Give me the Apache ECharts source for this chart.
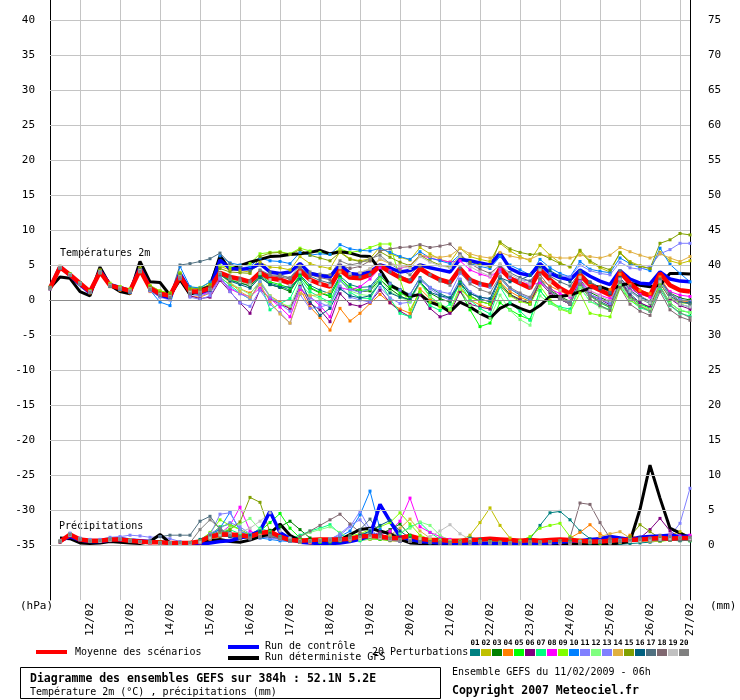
<!DOCTYPE html>
<html>
<head>
<meta charset="utf-8">
<script src="https://cdn.jsdelivr.net/npm/echarts@6/dist/echarts.min.js"></script>
<style>
html,body{margin:0;padding:0;background:#fff}
#chart{width:740px;height:700px}
</style>
</head>
<body>
<div id="chart"></div>
<script>
// echeances GEFS, pas de 6h depuis le 11/02/2009 06h
var hours = [0,6,12,18,24,30,36,42,48,54,60,66,72,78,84,90,96,102,108,114,120,126,132,138,144,150,156,162,168,174,180,186,192,198,204,210,216,222,228,234,240,246,252,258,264,270,276,282,288,294,300,306,312,318,324,330,336,342,348,354,360,366,372,378,384];
var dayLabels = ['12/02','13/02','14/02','15/02','16/02','17/02','18/02','19/02','20/02','21/02','22/02','23/02','24/02','25/02','26/02','27/02'];
var tempTicks = [40,35,30,25,20,15,10,5,0,-5,-10,-15,-20,-25,-30,-35];
var precTicks = [75,70,65,60,55,50,45,40,35,30,25,20,15,10,5,0];
var memberColors = ['#008080','#c0c000','#008000','#ff8000','#00ff00','#800080','#00ff80','#ff00ff','#80ff00','#0080ff','#8080ff','#80ff80','#8080ff','#e0b040','#80a000','#006080','#507080','#806870','#c0c0c0','#808080'];

// temperature 2m (°C)
var tMean = [1.7,4.7,3.6,2.4,1.2,4.0,2.1,1.7,1.3,4.3,1.7,0.9,0.6,3.4,1.2,1.2,1.7,3.9,3.3,3.0,2.6,3.9,3.1,2.9,2.4,4.2,2.9,2.3,1.9,4.3,3.2,3.1,3.6,4.9,4.0,3.2,2.6,4.5,3.6,2.9,2.5,4.5,2.9,2.3,2.0,4.5,3.1,2.4,1.7,4.3,2.9,1.7,0.9,3.6,2.1,1.4,0.7,4.0,2.4,1.2,0.6,3.8,2.1,1.4,1.2];
var tCtrl = [1.7,4.8,3.5,2.2,1.0,4.2,2.2,1.8,1.3,4.6,1.8,0.7,0.3,3.8,1.3,1.0,1.6,5.7,4.5,4.4,4.5,5.2,4.0,3.8,4.0,5.2,3.8,3.5,3.3,5.0,3.8,3.6,4.0,5.0,4.6,4.0,4.2,5.0,4.6,4.3,4.0,5.8,5.6,5.3,5.0,6.7,4.5,3.8,3.5,5.2,3.8,3.2,2.9,4.3,3.4,2.7,2.2,4.2,3.0,2.4,2.3,4.0,3.0,2.7,2.6];
var tDet = [1.7,3.3,3.1,1.2,0.6,4.7,2.1,1.2,0.9,5.5,2.6,2.5,0.7,2.9,0.8,1.4,1.9,6.3,4.3,4.9,5.4,5.8,6.2,6.3,6.5,6.6,6.8,7.1,6.6,6.9,6.7,6.3,6.2,4.3,2.1,1.4,0.5,0.8,-0.3,-0.8,-1.7,-0.3,-1.0,-1.9,-2.6,-1.2,-0.5,-1.2,-1.7,-0.8,0.5,0.5,0.7,1.2,1.7,1.9,1.4,2.1,2.4,2.1,1.9,2.1,3.8,3.8,3.7];
var t01 = [1.6,4.6,3.5,2.3,1.1,4.1,2.0,1.5,1.1,4.0,1.4,0.5,0.2,3.0,0.8,0.9,1.2,3.6,2.8,2.4,2.0,3.5,2.4,2.0,1.4,3.6,2.1,1.4,0.9,3.4,2.2,1.8,1.9,3.6,2.4,1.5,0.8,3.2,1.8,0.9,0.3,2.9,1.0,0.2,-0.3,3.1,1.6,0.7,0.0,3.0,1.3,0.1,-0.6,2.5,0.7,-0.2,-0.9,2.9,0.9,-0.4,-1.1,2.3,0.4,-0.6,-1.0];
var t02 = [1.8,4.8,3.7,2.5,1.3,4.3,2.4,1.9,1.6,4.6,2.1,1.3,1.0,3.9,1.7,1.6,2.2,4.8,4.3,4.2,4.0,5.4,4.7,4.6,4.3,6.2,5.2,4.8,4.5,6.9,5.9,5.6,5.9,7.6,6.6,6.1,5.7,7.5,6.6,5.8,5.4,7.4,6.2,5.8,5.5,8.1,7.0,6.2,5.6,7.8,6.4,5.3,4.7,6.9,5.4,4.6,4.0,6.8,5.5,4.9,4.5,6.8,5.6,5.2,5.6];
var t03 = [1.7,4.7,3.6,2.4,1.2,3.9,2.0,1.6,1.2,4.1,1.5,0.7,0.4,3.2,1.0,0.9,1.4,3.8,2.9,2.5,2.0,3.3,2.2,1.8,1.2,3.4,1.7,1.0,0.5,3.2,1.6,1.2,1.3,3.0,1.6,0.6,-0.1,2.5,1.0,0.2,-0.3,2.6,0.6,-0.2,-0.6,2.4,0.8,0.1,-0.5,2.8,1.4,0.5,-0.2,2.9,1.1,0.4,-0.3,3.1,1.3,0.2,-0.5,2.8,1.0,0.3,0.0];
var t04 = [1.6,4.6,3.6,2.3,1.0,3.9,1.9,1.4,1.0,4.0,1.2,0.5,0.1,3.0,0.5,0.4,1.0,3.2,2.2,1.6,1.0,2.4,0.6,-0.3,-1.2,1.5,-1.0,-2.5,-4.3,-1.2,-3.0,-1.9,-0.5,0.8,-0.4,-1.3,-1.9,1.6,0.2,-0.8,-1.5,1.9,0.0,-0.7,-1.2,2.6,1.2,0.4,-0.2,3.0,2.0,1.3,0.6,3.4,2.4,1.9,1.5,3.7,2.2,1.4,0.9,3.3,1.0,-0.3,-0.2];
var t05 = [1.8,4.8,3.7,2.5,1.3,4.1,2.2,1.8,1.4,4.4,1.9,1.1,0.8,3.6,1.4,1.3,1.6,3.6,2.9,2.6,2.3,3.7,2.6,2.2,1.7,3.4,1.8,1.1,0.6,3.1,1.8,1.4,1.5,3.4,2.0,1.0,0.3,2.6,0.5,-0.6,-1.3,1.4,-1.4,-3.8,-3.3,-0.4,-1.4,-2.2,-2.8,1.4,-0.5,-1.2,-1.6,2.2,0.6,-0.4,-1.1,2.7,0.5,-0.6,-1.2,2.0,-0.4,-1.5,-1.8];
var t06 = [1.6,4.6,3.5,2.4,1.2,4.0,2.0,1.5,1.1,4.2,1.4,0.6,0.3,3.1,0.6,0.2,0.4,2.8,1.2,-0.4,-1.9,1.5,0.2,-0.6,-1.2,2.0,-0.5,-1.4,-3.1,0.9,-0.6,-0.9,-0.3,1.4,-0.4,-1.6,-2.4,0.8,-1.2,-2.4,-1.9,1.2,-0.6,-1.0,-1.3,2.0,0.7,0.0,-0.6,2.5,1.0,0.1,-0.6,2.6,0.8,0.1,-0.7,2.9,0.6,-0.4,-1.0,2.4,0.2,-0.8,-1.3];
var t07 = [1.7,4.6,3.5,2.3,1.1,3.9,2.0,1.6,1.2,4.2,1.5,0.6,0.3,3.3,0.9,0.7,1.3,3.3,2.1,1.0,0.1,2.6,-1.4,-0.5,0.2,3.1,1.2,0.4,-0.3,3.0,1.1,0.3,0.2,2.6,0.2,-1.9,-2.4,1.1,-0.8,-1.5,-0.6,2.4,0.0,-1.2,-2.0,1.9,-0.4,-1.6,-2.9,1.3,-0.3,-1.0,-1.3,1.8,-0.2,-0.8,-1.4,2.1,0.0,-1.1,-1.6,1.5,-0.8,-1.9,-2.3];
var t08 = [1.7,4.8,3.6,2.5,1.2,4.1,2.1,1.7,1.2,4.3,1.6,0.8,0.5,3.2,1.0,0.8,1.1,3.0,1.6,0.9,0.5,1.7,0.2,-1.0,-2.4,1.5,0.5,-0.8,-2.4,1.8,1.4,1.9,3.0,4.6,4.2,4.5,4.9,6.4,6.0,5.7,5.4,5.6,4.3,3.7,3.3,4.4,3.2,2.6,2.2,2.4,1.6,0.9,0.4,2.7,1.3,0.7,0.2,3.1,1.6,0.8,0.4,2.7,1.2,0.7,0.5];
var t09 = [1.8,4.7,3.7,2.5,1.3,4.2,2.3,1.9,1.5,4.5,2.0,1.3,1.0,3.8,1.8,1.8,2.5,4.9,4.7,4.9,5.2,6.6,6.8,6.9,6.6,7.4,7.0,6.8,6.5,7.3,6.8,7.0,7.5,8.0,8.0,3.0,-1.4,1.2,-0.3,-1.0,-1.4,1.5,0.4,-0.2,-0.6,2.1,0.6,-0.2,-0.6,2.0,0.0,-1.3,-1.8,1.0,-1.9,-2.2,-2.4,1.7,0.0,-0.9,-1.4,2.4,0.4,-0.4,-0.5];
var t10 = [1.7,4.7,3.6,2.4,1.2,4.1,2.1,1.5,1.1,4.3,1.4,-0.3,-0.8,4.8,1.9,1.7,2.6,6.3,5.3,5.0,4.8,6.0,5.6,5.5,5.2,6.8,6.4,6.6,6.5,7.9,7.3,7.1,7.0,7.4,6.8,6.2,5.8,6.9,6.0,5.6,5.2,6.5,5.2,4.8,4.5,6.2,5.0,4.3,3.6,5.8,4.6,3.8,3.3,5.5,4.4,4.1,3.9,6.0,5.2,4.6,4.2,7.4,5.1,3.8,2.6];
var t11 = [1.6,4.6,3.6,2.4,1.1,3.9,2.1,1.6,1.2,4.1,1.5,0.6,0.2,3.2,0.8,0.6,1.0,3.4,1.2,-0.4,-0.9,1.4,-0.6,-1.8,-3.3,0.8,-1.2,-1.0,-0.6,2.0,0.4,0.0,-0.3,1.8,0.3,-0.5,-0.3,2.8,1.8,1.2,0.9,3.8,2.6,2.1,1.8,4.0,3.2,2.9,2.7,4.5,3.8,3.5,3.3,5.0,4.2,3.8,3.6,5.4,4.6,4.4,4.8,6.6,7.2,8.1,8.1];
var t12 = [1.7,4.7,3.6,2.4,1.2,4.0,2.2,1.7,1.3,4.2,1.6,0.9,0.7,3.4,1.2,1.1,1.5,3.6,2.5,1.6,0.8,2.8,0.6,-0.5,-0.9,2.4,0.8,0.2,-0.6,2.7,1.3,0.8,0.6,3.0,1.2,0.4,-0.2,2.4,0.4,-0.6,-1.3,1.6,-0.8,-1.8,-2.6,0.7,-1.5,-2.8,-3.6,0.6,-0.5,-1.2,-1.6,1.8,-0.2,-1.0,-1.5,2.2,0.2,-0.8,-1.3,1.9,-0.5,-1.4,-1.8];
var t13 = [1.7,4.6,3.5,2.3,1.1,4.0,2.0,1.6,1.2,4.1,1.3,0.4,0.0,3.1,0.4,0.1,0.6,3.0,1.8,0.9,0.2,2.6,0.4,-0.6,-1.6,1.8,0.3,-0.4,-1.0,2.8,1.5,1.1,1.6,3.6,2.3,1.4,0.8,3.0,1.6,0.6,0.0,3.0,1.2,0.4,0.1,3.4,1.6,0.9,0.2,2.8,1.3,0.3,-0.4,2.6,0.8,0.2,-0.5,3.0,1.2,0.2,-0.4,2.7,0.9,0.1,-0.2];
var t14 = [1.7,4.7,3.6,2.4,1.2,4.0,2.1,1.7,1.3,4.3,1.7,1.0,0.7,3.5,1.3,1.2,1.6,3.7,2.5,1.2,0.4,2.2,-0.2,-2.0,-3.3,0.9,0.6,0.8,1.2,4.0,3.6,3.9,4.4,5.8,5.2,4.9,4.8,6.4,6.2,6.1,6.3,7.4,6.6,6.2,6.0,6.8,6.3,6.0,5.8,6.5,6.2,6.0,6.0,6.4,6.2,6.0,6.4,7.5,6.9,6.4,6.0,6.6,6.0,5.5,6.2];
var t15 = [1.8,4.8,3.7,2.5,1.3,4.2,2.2,1.8,1.4,4.5,1.9,1.1,0.9,3.7,1.6,1.6,2.2,4.5,4.0,3.9,3.8,6.2,6.7,6.8,6.5,7.2,6.4,6.0,5.6,6.8,5.8,5.5,5.6,6.9,6.1,5.4,4.9,6.4,5.6,5.0,4.7,6.3,5.4,5.0,4.8,8.3,7.3,6.8,6.5,6.6,5.9,5.2,4.8,7.1,5.6,4.8,4.3,6.7,5.3,4.8,4.5,8.1,8.6,9.5,9.3];
var t16 = [1.7,4.6,3.6,2.4,1.2,4.0,2.0,1.6,1.2,4.2,1.5,0.7,0.4,3.2,1.0,0.9,1.4,3.6,2.7,2.2,1.7,3.2,2.2,1.8,1.9,3.0,-0.2,-2.2,-1.2,1.6,0.6,0.3,0.6,2.4,1.0,0.4,0.1,2.6,1.1,0.6,0.3,2.3,0.9,0.4,0.2,3.2,2.6,2.9,3.5,4.6,4.2,3.4,2.6,4.1,2.5,1.6,0.9,3.2,1.4,0.4,-0.2,2.6,0.6,-0.3,-0.4];
var t17 = [1.7,4.7,3.6,2.4,1.2,4.1,2.1,1.6,1.3,4.3,1.6,0.8,0.5,5.0,5.2,5.5,5.9,6.7,5.2,4.6,4.2,5.0,4.0,3.6,3.1,4.6,3.4,2.8,2.4,4.6,3.6,3.3,3.6,5.0,4.0,3.4,2.9,4.8,3.6,2.9,2.6,4.6,3.0,2.4,2.1,4.8,3.9,3.2,2.7,4.4,3.4,2.6,2.0,4.0,2.6,1.8,1.1,4.2,2.0,0.6,-0.2,3.0,0.9,-0.2,-0.6];
var t18 = [1.7,4.7,3.6,2.4,1.2,4.0,2.1,1.7,1.3,4.3,1.7,0.9,0.6,3.4,1.2,1.2,1.8,3.9,3.4,3.1,2.8,4.2,3.5,3.3,3.0,4.6,3.6,3.2,2.9,5.0,4.5,4.8,5.6,7.0,7.3,7.5,7.6,7.9,7.5,7.7,8.0,6.6,5.2,4.4,3.8,5.0,3.4,2.5,1.8,3.6,1.8,0.4,-0.5,2.2,0.2,-0.8,-1.5,1.8,-0.6,-1.6,-2.2,1.2,-1.4,-2.4,-2.9];
var t19 = [1.7,4.7,3.6,2.4,1.2,4.0,2.1,1.7,1.3,4.2,1.6,0.8,0.5,3.3,1.1,1.0,1.5,3.8,3.0,2.6,2.2,3.8,2.9,2.6,2.1,4.0,2.8,2.3,2.1,4.6,3.8,3.9,4.5,6.0,5.3,4.8,4.5,6.2,5.4,4.9,4.6,6.3,4.8,4.0,3.4,5.2,3.7,2.9,2.3,4.3,2.6,1.4,0.6,3.2,1.4,0.6,-0.1,3.0,1.3,0.2,-0.4,2.6,0.4,-0.6,-1.0];
var t20 = [1.7,4.6,3.5,2.3,1.1,3.9,2.0,1.6,1.2,4.1,1.5,0.7,0.4,3.2,0.9,0.9,1.5,3.7,3.1,2.8,2.6,4.3,3.6,3.5,3.2,4.9,4.0,3.7,3.6,5.6,5.0,5.3,5.9,6.4,5.2,4.3,3.6,5.0,3.6,2.7,2.1,4.0,2.3,1.5,1.0,3.4,1.8,1.0,0.4,3.0,1.3,0.2,-0.6,2.3,0.6,-0.3,-1.0,2.5,0.4,-0.9,-1.6,1.9,-0.7,-1.8,-2.5];

// precipitations (mm), pas de valeur a l'echeance 0
var pMean = [null,0.5,1.5,0.8,0.6,0.6,0.8,0.8,0.6,0.5,0.4,0.4,0.3,0.3,0.3,0.5,1.2,1.5,1.5,1.4,1.2,1.7,1.9,1.2,0.7,0.6,0.7,0.8,0.8,0.8,0.9,1.2,1.3,1.2,1.0,1.0,1.3,0.9,0.7,0.7,0.6,0.6,0.7,0.8,0.9,0.8,0.7,0.6,0.7,0.6,0.7,0.8,0.7,0.6,0.5,0.5,0.6,0.7,0.7,0.8,0.9,1.0,0.9,1.0,1.0];
var pCtrl = [null,0.6,1.2,0.7,0.5,0.5,0.7,0.9,0.7,0.6,0.5,0.4,0.3,0.2,0.1,0.1,0.3,0.5,0.6,1.0,1.4,2.0,4.8,1.8,0.9,0.4,0.3,0.2,0.2,0.3,0.5,0.8,1.3,5.8,3.4,1.2,0.8,0.5,0.4,0.3,0.3,0.2,0.3,0.2,0.2,0.2,0.2,0.1,0.1,0.2,0.3,0.4,0.5,0.6,0.8,0.9,1.2,1.0,0.8,1.1,1.2,1.3,1.4,1.2,1.3];
var pDet = [null,1.0,0.9,0.3,0.2,0.3,0.5,0.4,0.3,0.2,0.5,1.5,0.3,0.2,0.2,0.3,0.6,0.8,0.5,0.4,0.7,1.2,1.6,3.0,1.4,0.6,0.3,0.5,0.8,0.7,1.5,2.2,2.4,2.0,1.6,0.8,0.3,0.2,0.1,0.1,0.2,0.2,0.3,0.2,0.2,0.1,0.1,0.1,0.1,0.2,0.2,0.1,0.1,0.1,0.2,0.2,0.1,0.3,0.5,5.1,11.4,6.7,2.4,1.7,1.0];
var p01 = [null,0.5,1.4,0.8,0.6,0.5,0.8,0.8,0.6,0.5,0.3,0.3,0.2,0.2,0.2,0.8,1.6,2.2,1.8,1.0,0.9,1.6,1.2,0.8,0.5,0.4,0.6,0.4,0.3,0.6,1.0,1.5,1.8,1.4,0.8,0.6,0.9,0.5,0.3,0.2,0.3,0.6,1.1,0.8,0.5,0.3,0.3,0.4,0.9,2.8,4.6,4.8,3.6,2.0,0.9,0.4,0.2,0.1,0.2,0.3,0.4,0.6,0.8,0.7,0.9];
var p02 = [null,0.4,1.6,0.9,0.6,0.6,0.9,0.9,0.7,0.5,0.4,0.3,0.3,0.2,0.3,0.5,1.0,1.3,1.2,1.6,1.1,1.4,1.8,0.9,0.6,0.5,0.6,0.7,0.8,0.7,0.6,0.9,1.0,0.8,0.6,0.5,0.8,1.1,0.7,0.5,0.4,0.6,1.4,3.2,5.3,2.8,1.0,0.5,0.4,0.3,0.5,0.6,0.4,0.3,0.4,0.5,0.4,0.6,0.5,0.6,0.8,1.0,1.4,1.9,1.2];
var p03 = [null,0.5,1.5,0.8,0.6,0.6,0.8,0.8,0.6,0.5,0.4,0.4,0.3,0.3,0.3,0.4,1.0,1.4,1.5,1.3,1.2,1.8,2.1,2.6,3.4,2.2,1.0,0.6,0.5,0.6,0.8,1.1,1.2,1.6,2.2,3.0,1.4,0.6,0.4,0.3,0.3,0.3,0.4,0.5,0.6,0.4,0.3,0.3,0.4,0.3,0.4,0.6,0.5,0.4,0.3,0.3,0.5,0.6,0.5,0.7,0.8,0.9,0.7,0.8,0.6];
var p04 = [null,0.6,1.4,0.7,0.5,0.5,0.7,0.8,0.6,0.4,0.3,0.3,0.2,0.2,0.2,0.3,0.8,1.2,1.4,1.8,1.4,1.2,1.5,1.0,0.6,0.4,0.3,0.5,0.7,1.2,0.9,0.7,0.8,1.0,0.9,0.7,1.0,0.6,0.4,0.3,0.2,0.2,0.3,0.3,0.4,0.3,0.3,0.4,0.5,0.4,0.5,0.6,1.0,1.8,2.9,1.6,0.8,0.6,1.4,0.9,0.6,0.7,0.8,0.9,0.7];
var p05 = [null,0.5,1.6,0.8,0.6,0.6,0.9,0.8,0.6,0.5,0.4,0.3,0.3,0.3,0.3,0.6,1.4,2.6,3.0,2.2,1.5,2.0,3.2,4.5,2.4,1.0,0.6,0.4,0.5,0.6,0.8,1.0,0.9,0.8,0.7,0.9,1.3,0.8,0.5,0.4,0.3,0.3,0.4,0.5,0.4,0.3,0.2,0.2,0.3,0.2,0.3,0.4,0.5,0.5,0.4,0.3,0.4,0.6,0.8,1.0,0.7,0.6,0.7,0.9,0.8];
var p06 = [null,0.4,1.3,0.7,0.5,0.5,0.6,0.7,0.5,0.4,0.3,0.3,0.2,0.2,0.2,0.3,0.9,1.4,1.2,1.0,0.9,1.3,1.5,1.1,0.7,0.5,0.4,0.5,0.6,0.7,0.8,1.0,1.4,1.8,1.8,1.2,0.8,0.5,0.4,0.3,0.3,0.3,0.4,0.4,0.5,0.4,0.3,0.3,0.4,0.3,0.3,0.4,0.3,0.3,0.4,0.4,0.5,0.4,0.6,1.0,2.2,3.8,2.0,1.0,1.2];
var p07 = [null,0.5,1.5,0.8,0.6,0.6,0.8,0.8,0.6,0.5,0.4,0.3,0.3,0.3,0.3,0.5,1.2,1.8,2.2,1.6,1.4,2.4,1.9,1.2,0.9,1.4,2.0,2.4,2.9,1.6,0.8,0.6,0.9,1.2,1.0,1.6,2.6,3.2,1.8,0.8,0.4,0.3,0.3,0.4,0.4,0.3,0.3,0.2,0.2,0.2,0.3,0.4,0.3,0.3,0.3,0.4,0.4,0.5,0.6,0.6,0.7,0.8,0.8,0.7,0.6];
var p08 = [null,0.5,1.4,0.8,0.6,0.5,0.8,0.8,0.6,0.4,0.3,0.3,0.2,0.2,0.2,0.4,1.0,1.6,2.8,5.4,2.0,1.4,1.2,0.8,0.6,0.5,0.4,0.5,0.6,0.7,0.8,0.9,1.1,1.4,2.0,3.4,6.7,2.6,1.8,1.2,0.8,0.5,0.3,0.3,0.4,0.3,0.3,0.3,0.4,0.3,0.3,0.3,0.3,0.3,0.4,0.4,0.3,0.4,0.5,0.6,0.8,1.2,1.4,1.3,1.4];
var p09 = [null,0.6,1.6,0.9,0.7,0.6,0.9,0.9,0.7,0.5,0.4,0.4,0.3,0.3,0.3,0.6,1.8,3.6,2.8,2.2,1.4,1.2,1.4,1.0,0.7,0.5,0.6,0.8,0.9,1.0,1.3,1.6,2.2,2.6,3.2,4.6,3.0,1.4,0.8,0.5,0.4,0.5,0.6,0.5,0.4,0.3,0.4,0.6,1.2,2.4,2.8,3.1,1.2,0.6,0.4,0.3,0.3,0.4,0.5,0.6,0.6,0.5,0.7,0.8,0.7];
var p10 = [null,0.5,1.5,0.8,0.6,0.6,0.8,0.8,0.6,0.5,0.4,0.3,0.3,0.2,0.3,0.5,1.2,2.4,4.7,2.0,1.3,1.0,0.8,0.6,0.5,0.4,0.5,0.6,0.8,1.2,2.0,4.3,7.7,2.3,1.2,0.8,0.6,0.4,0.3,0.3,0.3,0.4,0.3,0.3,0.2,0.2,0.3,0.3,0.3,0.4,0.5,0.4,0.4,0.5,0.6,0.5,0.6,0.8,1.0,0.9,0.8,0.9,1.0,1.1,1.0];
var p11 = [null,0.6,1.7,1.0,0.8,0.8,1.1,1.2,1.4,1.3,1.1,1.2,0.9,0.5,0.3,0.5,1.4,4.4,4.6,2.2,1.2,1.0,1.3,0.9,0.6,0.5,0.6,0.7,0.9,1.4,2.6,4.8,2.2,1.2,0.8,0.6,0.5,0.4,0.4,0.3,0.3,0.4,0.5,0.4,0.3,0.3,0.3,0.4,0.3,0.3,0.4,0.5,0.4,0.4,0.5,0.6,0.5,0.6,0.7,0.8,0.9,1.0,1.3,3.1,8.1];
var p12 = [null,0.5,1.4,0.8,0.6,0.5,0.7,0.8,0.6,0.5,0.4,0.3,0.3,0.3,0.3,0.5,1.1,1.8,2.4,3.0,3.8,2.2,1.4,1.0,0.8,1.2,1.8,2.2,2.6,1.8,1.0,0.8,0.9,1.0,1.3,1.8,2.4,3.3,2.8,1.4,0.6,0.4,0.4,0.5,0.5,0.4,0.3,0.3,0.4,0.4,0.5,0.4,0.3,0.3,0.4,0.4,0.5,0.6,0.5,0.6,0.7,0.8,0.7,0.6,0.7];
var p13 = [null,0.5,1.5,0.8,0.6,0.6,0.8,0.8,0.6,0.5,0.4,0.3,0.3,0.2,0.2,0.5,1.6,2.4,3.2,2.6,1.6,1.2,1.0,0.8,0.6,0.5,0.5,0.6,0.8,1.6,2.8,3.6,2.0,1.0,0.7,0.5,0.5,0.4,0.4,0.4,0.3,0.3,0.4,0.5,0.4,0.3,0.3,0.3,0.3,0.4,0.3,0.3,0.3,0.4,0.5,0.4,0.4,0.5,0.6,0.7,0.8,0.9,1.0,0.9,1.0];
var p14 = [null,0.5,1.4,0.8,0.5,0.5,0.7,0.8,0.6,0.4,0.3,0.3,0.2,0.2,0.2,0.4,0.9,1.4,1.6,1.2,1.0,1.4,1.3,0.9,0.6,0.4,0.4,0.5,0.6,0.7,0.9,1.1,1.2,1.0,1.4,2.4,3.7,2.0,1.0,0.6,0.4,0.3,0.3,0.4,0.4,0.3,0.3,0.2,0.3,0.3,0.4,0.4,0.3,0.4,0.6,1.2,1.6,1.9,1.0,0.6,0.5,0.6,0.7,0.8,0.9];
var p15 = [null,0.5,1.5,0.8,0.6,0.6,0.8,0.8,0.6,0.5,0.4,0.3,0.3,0.3,0.3,0.5,1.0,1.6,2.2,3.3,6.8,6.1,1.8,1.0,0.7,0.5,0.5,0.6,0.7,0.8,0.9,1.0,1.1,1.2,1.0,0.8,0.9,0.7,0.5,0.4,0.4,0.5,0.6,0.6,0.5,0.4,0.3,0.3,0.3,0.4,0.4,0.5,0.4,0.3,0.4,0.5,0.5,0.6,1.2,2.9,1.9,1.0,0.8,0.9,0.8];
var p16 = [null,0.5,1.4,0.8,0.6,0.5,0.8,0.8,0.6,0.5,0.4,0.3,0.3,0.2,0.2,0.4,1.0,1.3,1.2,1.0,1.4,2.0,1.6,1.1,0.7,0.5,0.5,0.6,0.7,0.8,1.0,1.4,2.0,2.8,3.5,2.0,1.0,0.6,0.4,0.3,0.3,0.3,0.4,0.5,0.4,0.3,0.3,0.3,0.4,0.4,0.5,0.5,0.4,0.3,0.3,0.4,0.5,0.5,0.6,0.7,0.6,0.7,0.8,0.7,0.8];
var p17 = [null,0.5,1.4,0.8,0.6,0.5,0.7,0.8,0.6,0.5,0.6,1.2,1.4,1.4,1.4,3.4,4.1,2.2,1.4,1.0,0.9,1.1,1.2,0.9,0.6,0.5,0.5,0.6,0.7,0.9,1.3,2.2,3.7,1.6,0.9,0.6,0.5,0.5,0.4,0.4,0.3,0.3,0.4,0.4,0.3,0.3,0.3,0.3,0.4,0.4,0.4,0.4,0.3,0.3,0.4,0.4,0.5,0.6,0.6,0.6,0.7,0.6,0.7,0.6,0.7];
var p18 = [null,0.5,1.5,0.8,0.6,0.6,0.8,0.8,0.6,0.5,0.4,0.3,0.3,0.3,0.3,0.6,1.4,2.0,1.6,1.2,1.0,1.2,1.4,1.0,0.8,1.2,2.0,2.8,3.6,4.4,3.0,1.8,1.2,0.9,0.7,0.6,0.5,0.4,0.4,0.3,0.3,0.3,0.4,0.4,0.3,0.3,0.3,0.3,0.4,0.5,0.5,0.6,1.0,6.0,5.8,3.2,1.0,0.6,0.5,0.6,0.7,0.8,0.7,0.8,0.7];
var p19 = [null,0.5,1.4,0.8,0.6,0.5,0.7,0.8,0.6,0.5,0.4,0.3,0.3,0.2,0.2,0.4,1.0,1.4,1.6,1.8,2.4,3.4,4.6,2.0,1.0,0.6,0.5,0.6,0.7,0.8,0.9,1.0,1.2,1.0,0.8,0.7,0.8,0.9,1.2,2.0,2.9,1.6,0.8,0.5,0.4,0.3,0.3,0.3,0.4,0.4,0.4,0.3,0.3,0.4,0.4,0.5,0.5,0.6,0.5,0.6,0.7,0.8,0.9,1.0,0.9];
var p20 = [null,0.5,1.5,0.8,0.6,0.6,0.8,0.8,0.6,0.5,0.4,0.3,0.3,0.3,0.3,2.2,3.6,2.4,1.4,1.0,0.9,1.2,1.4,1.0,0.7,0.5,0.5,0.6,0.7,0.8,1.0,1.2,1.4,1.2,0.9,0.7,0.6,0.5,0.4,0.4,0.3,0.4,0.5,0.5,0.4,0.3,0.3,0.3,0.4,0.4,0.5,0.4,0.4,0.3,0.4,0.5,0.5,0.6,0.7,0.8,1.0,1.4,1.2,1.0,1.1];

var tMembers = [t01,t02,t03,t04,t05,t06,t07,t08,t09,t10,t11,t12,t13,t14,t15,t16,t17,t18,t19,t20];
var pMembers = [p01,p02,p03,p04,p05,p06,p07,p08,p09,p10,p11,p12,p13,p14,p15,p16,p17,p18,p19,p20];

var MONO = '"DejaVu Sans Mono", monospace';
var chart = echarts.init(document.getElementById('chart'), null, {renderer: 'canvas'});

function onTick(v, list) {
	for (var i = 0; i < list.length; i++) {
		if (Math.abs(v - list[i]) < 1e-6) return true;
	}
	return false;
}

function member(data, k, axis) {
	return {
		type: 'line', name: 'm' + (k + 1), data: data, yAxisIndex: axis,
		symbol: 'rect', symbolSize: 3, showAllSymbol: true,
		lineStyle: {width: 1, color: memberColors[k]},
		itemStyle: {color: memberColors[k]},
		silent: true, animation: false
	};
}

function main(data, axis, color, width) {
	return {
		type: 'line', data: data, yAxisIndex: axis, symbol: 'none',
		lineStyle: {width: width, color: color}, silent: true, animation: false
	};
}

var grid_lines = tempTicks.filter(function (v) { return v !== 0; }).map(function (v) { return {yAxis: v}; });
grid_lines.push({yAxis: 0, lineStyle: {color: '#8c8c8c'}});

var series = [{
	type: 'line', data: [], yAxisIndex: 0, z: 1, silent: true, animation: false,
	markLine: {
		silent: true, symbol: ['none', 'none'], label: {show: false}, animation: false,
		lineStyle: {color: '#c4c4c4', width: 1, type: 'solid'},
		data: grid_lines
	}
}];
tMembers.forEach(function (d, k) { series.push(member(d, k, 0)); });
pMembers.forEach(function (d, k) { series.push(member(d, k, 1)); });
series.push(main(tDet, 0, '#000000', 3));
series.push(main(pDet, 1, '#000000', 3));
series.push(main(tCtrl, 0, '#0000ff', 3.5));
series.push(main(pCtrl, 1, '#0000ff', 3.5));
series.push(main(tMean, 0, '#ff0000', 4.5));
series.push(main(pMean, 1, '#ff0000', 4.5));

// legende et cartouche
var graphic = [
	{type: 'text', x: 20, y: 606, style: {text: '(hPa)', font: '11px ' + MONO, fill: '#000', verticalAlign: 'middle'}},
	{type: 'text', x: 710, y: 606, style: {text: '(mm)', font: '11px ' + MONO, fill: '#000', verticalAlign: 'middle'}},
	{type: 'text', x: 60, y: 253, style: {text: 'Températures 2m', font: '10px ' + MONO, fill: '#000', verticalAlign: 'middle'}},
	{type: 'text', x: 59, y: 526, style: {text: 'Précipitations', font: '10px ' + MONO, fill: '#000', verticalAlign: 'middle'}},
	{type: 'rect', shape: {x: 36, y: 650, width: 31, height: 4}, style: {fill: '#ff0000'}},
	{type: 'text', x: 75, y: 652, style: {text: 'Moyenne des scénarios', font: '10px ' + MONO, fill: '#000', verticalAlign: 'middle'}},
	{type: 'rect', shape: {x: 228, y: 645, width: 31, height: 4}, style: {fill: '#0000ff'}},
	{type: 'text', x: 265, y: 646, style: {text: 'Run de contrôle', font: '10px ' + MONO, fill: '#000', verticalAlign: 'middle'}},
	{type: 'rect', shape: {x: 228, y: 656, width: 31, height: 4}, style: {fill: '#000000'}},
	{type: 'text', x: 265, y: 657, style: {text: 'Run déterministe GFS', font: '10px ' + MONO, fill: '#000', verticalAlign: 'middle'}},
	{type: 'text', x: 372, y: 652, style: {text: '20 Perturbations', font: '10px ' + MONO, fill: '#000', verticalAlign: 'middle'}},
	{type: 'rect', shape: {x: 20.5, y: 667.5, width: 420, height: 31}, style: {fill: 'none', stroke: '#000', lineWidth: 1}},
	{type: 'text', x: 30, y: 679, style: {text: 'Diagramme des ensembles GEFS sur 384h : 52.1N 5.2E', font: 'bold 11.5px ' + MONO, fill: '#000', verticalAlign: 'middle'}},
	{type: 'text', x: 30, y: 692, style: {text: 'Température 2m (°C) , précipitations (mm)', font: '10px ' + MONO, fill: '#000', verticalAlign: 'middle'}},
	{type: 'text', x: 452, y: 672, style: {text: 'Ensemble GEFS du 11/02/2009 - 06h', font: '10px ' + MONO, fill: '#000', verticalAlign: 'middle'}},
	{type: 'text', x: 452, y: 691, style: {text: 'Copyright 2007 Meteociel.fr', font: 'bold 11.5px ' + MONO, fill: '#000', verticalAlign: 'middle'}}
];
memberColors.forEach(function (c, k) {
	var n = (k + 1 < 10 ? '0' : '') + (k + 1);
	graphic.push({type: 'rect', shape: {x: 470 + k * 11, y: 649, width: 10, height: 7}, style: {fill: c}});
	graphic.push({type: 'text', x: 475 + k * 11, y: 643, style: {text: n, font: 'bold 7.5px ' + MONO, fill: '#000', align: 'center', verticalAlign: 'middle'}});
});

var option = {
	backgroundColor: '#ffffff',
	animation: false,
	grid: {left: 50, right: 50, top: 0, bottom: 100},
	xAxis: {
		type: 'category', data: hours, boundaryGap: false,
		axisLine: {show: true, lineStyle: {color: '#000', width: 1}},
		axisTick: {show: false},
		axisLabel: {
			rotate: 90, margin: 3, color: '#000', fontFamily: MONO, fontSize: 11,
			interval: function (i) { return i > 0 && i % 4 === 0; },
			formatter: function (v, i) { return dayLabels[i / 4 - 1] || ''; }
		},
		splitLine: {
			show: true, lineStyle: {color: '#c4c4c4', width: 1},
			interval: function (i) { return i % 4 === 3; }
		}
	},
	yAxis: [{
		type: 'value', position: 'left', min: -300 / 7, max: 300 / 7, splitNumber: 17,
		axisLine: {show: true, lineStyle: {color: '#000', width: 1}},
		axisTick: {show: false}, splitLine: {show: false},
		axisLabel: {
			margin: 15, color: '#000', fontFamily: MONO, fontSize: 11,
			formatter: function (v) { return onTick(v, tempTicks) ? String(Math.round(v)) : ''; }
		}
	}, {
		type: 'value', position: 'right', min: 35 - 300 / 7, max: 35 + 300 / 7, splitNumber: 17,
		axisLine: {show: true, lineStyle: {color: '#000', width: 1}},
		axisTick: {show: false}, splitLine: {show: false},
		axisLabel: {
			margin: 18, color: '#000', fontFamily: MONO, fontSize: 11,
			formatter: function (v) { return onTick(v, precTicks) ? String(Math.round(v)) : ''; }
		}
	}],
	series: series,
	graphic: graphic
};
chart.setOption(option);
</script>
</body>
</html>
